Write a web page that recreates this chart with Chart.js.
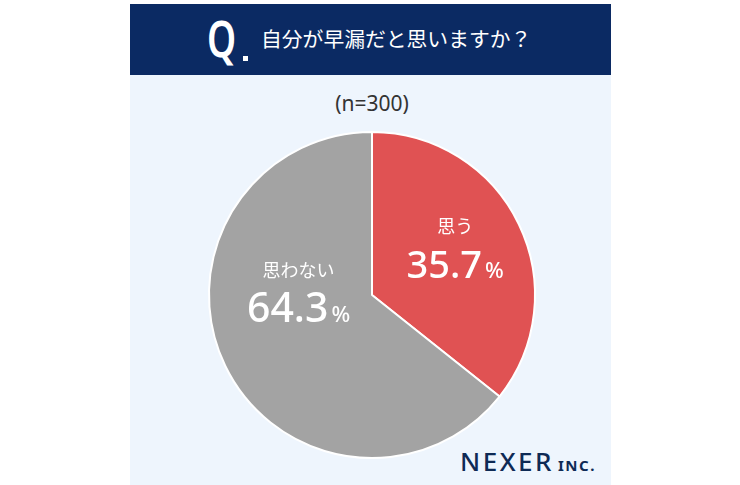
<!DOCTYPE html>
<html><head><meta charset="utf-8">
<script src="https://cdn.jsdelivr.net/npm/chart.js@4.4.0/dist/chart.umd.min.js"></script>
<style>
html,body{margin:0;padding:0;background:#fff;width:740px;height:485px;overflow:hidden;font-family:"Noto Sans CJK JP","Noto Sans",sans-serif;}
#panel{position:absolute;left:130px;top:4px;width:481px;height:481px;background:#eef5fd;}
#header{position:absolute;left:130px;top:4px;width:481px;height:71px;background:#0b2a63;color:#fff;}
#q{position:absolute;left:207px;top:10px;font-size:50px;font-weight:600;line-height:56px;color:#fff;font-family:"Noto Sans",sans-serif;transform:scaleX(0.74);transform-origin:left top;}
#qdot{position:absolute;left:243px;top:56px;width:5px;height:5px;background:#fff;}
#qtext{position:absolute;left:261px;top:24px;font-size:20.8px;line-height:28px;color:#fff;}
#n{position:absolute;left:0;width:744px;top:89px;text-align:center;font-size:21px;color:#333;font-family:"Noto Sans",sans-serif;}
#logo{position:absolute;left:460px;top:443px;color:#0e2a55;font-family:"Noto Sans",sans-serif;white-space:nowrap;}
#logo .a{font-size:26px;letter-spacing:2.5px;font-weight:500;}
#logo .b{font-size:15px;font-weight:700;letter-spacing:1.5px;margin-left:4px;}
canvas{position:absolute;left:0;top:0;}
</style></head>
<body>
<div id="panel"></div>
<div id="header"></div>
<div id="q">Q</div><div id="qdot"></div>
<div id="qtext">自分が早漏だと思いますか？</div>
<div id="n">(n=300)</div>
<div id="logo"><span class="a">NEXER</span><span class="b">INC.</span></div>
<canvas id="c" width="740" height="485"></canvas>
<script>
const categories = ["思う", "思わない"];
const values = [35.7, 64.3];
const colors = ["#e05253", "#a3a3a3"];

const labelPlugin = {
  id: 'sliceLabels',
  afterDatasetsDraw(chart, args, opts) {
    const ctx = chart.ctx;
    const meta = chart.getDatasetMeta(0);
    meta.data.forEach((arc, i) => {
      const mid = (arc.startAngle + arc.endAngle) / 2;
      const r = arc.outerRadius * opts.radius[i];
      const x = arc.x + Math.cos(mid) * r + opts.dx[i];
      const y = arc.y + Math.sin(mid) * r + opts.dy[i];
      const big = opts.big[i];
      ctx.save();
      ctx.fillStyle = '#fff';
      ctx.textAlign = 'center';
      ctx.textBaseline = 'middle';
      ctx.font = '18px "Noto Sans CJK JP", sans-serif';
      ctx.fillText(categories[i], x, y - 22);
      const num = values[i].toFixed(1);
      ctx.font = '500 ' + big + 'px "Noto Sans", sans-serif';
      const wn = ctx.measureText(num).width;
      ctx.font = '500 22px "Noto Sans", sans-serif';
      const wp = ctx.measureText('%').width;
      const total = wn + wp + 3;
      const x0 = x - total / 2;
      ctx.textAlign = 'left';
      ctx.textBaseline = 'alphabetic';
      ctx.font = '500 ' + big + 'px "Noto Sans", sans-serif';
      ctx.fillText(num, x0, y + 30);
      ctx.font = '500 22px "Noto Sans", sans-serif';
      ctx.fillText('%', x0 + wn + 3, y + 30);
      ctx.restore();
    });
  }
};

new Chart(document.getElementById('c'), {
  type: 'pie',
  data: {
    labels: categories,
    datasets: [{ data: values, backgroundColor: colors, borderColor: '#ffffff', borderWidth: 2 }]
  },
  options: {
    responsive: false,
    animation: false,
    layout: { padding: { left: 208, right: 204, top: 131, bottom: 26 } },
    plugins: {
      legend: { display: false },
      tooltip: { enabled: false },
      sliceLabels: { radius: [0.58, 0.5], dx: [-2, 0], dy: [-6, -38], big: [38, 41] }
    }
  },
  plugins: [labelPlugin]
});
</script>
</body></html>
